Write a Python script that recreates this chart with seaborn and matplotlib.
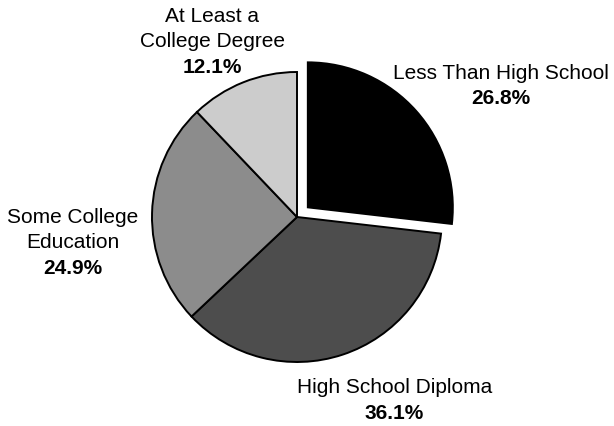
import matplotlib
matplotlib.use("Agg")
import matplotlib.pyplot as plt
import seaborn as sns
import numpy as np

# Educational attainment shares (percent)
categories = ["Less Than High School", "High School Diploma",
              "Some College Education", "At Least a College Degree"]
shares = [26.8, 36.1, 24.9, 12.1]
name_lines = [["Less Than High School"],
              ["High School Diploma"],
              ["Some College", "Education"],
              ["At Least a", "College Degree"]]
colors = ["#000000", "#4d4d4d", "#8c8c8c", "#cccccc"]

sns.set_theme(style="white")
plt.rcParams["font.family"] = ["Liberation Sans", "DejaVu Sans"]

W, H = 614, 426
R_PX = 145.0              # pie radius in pixels
CX, CY = 297.0, 217.0     # pie centre (pixels from top-left)

fig = plt.figure(figsize=(W / 100, H / 100), dpi=100)
ax = fig.add_axes([0, 0, 1, 1])

explode = [0.1, 0, 0, 0]
ax.pie(shares, colors=colors, startangle=90, counterclock=False,
       explode=explode, radius=1.0,
       wedgeprops=dict(edgecolor="black", linewidth=1.4))

ax.set_xlim(-CX / R_PX, (W - CX) / R_PX)
ax.set_ylim(-(H - CY) / R_PX, CY / R_PX)
ax.set_aspect("equal")
ax.axis("off")

# label anchors: (centre x, baseline of first line), in pie-radius units
anchors = [(1.407, 0.952), (0.672, -1.214), (-1.545, -0.041), (-0.586, 1.345)]
line_step = 0.176
fs = 15

for lines, share, (x, y) in zip(name_lines, shares, anchors):
    for i, ln in enumerate(lines):
        ax.text(x, y - i * line_step, ln, ha="center", va="baseline",
                fontsize=fs, color="black")
    ax.text(x, y - len(lines) * line_step, f"{share:.1f}%", ha="center",
            va="baseline", fontsize=fs, fontweight="bold", color="black")

fig.savefig("out.png", dpi=100)
